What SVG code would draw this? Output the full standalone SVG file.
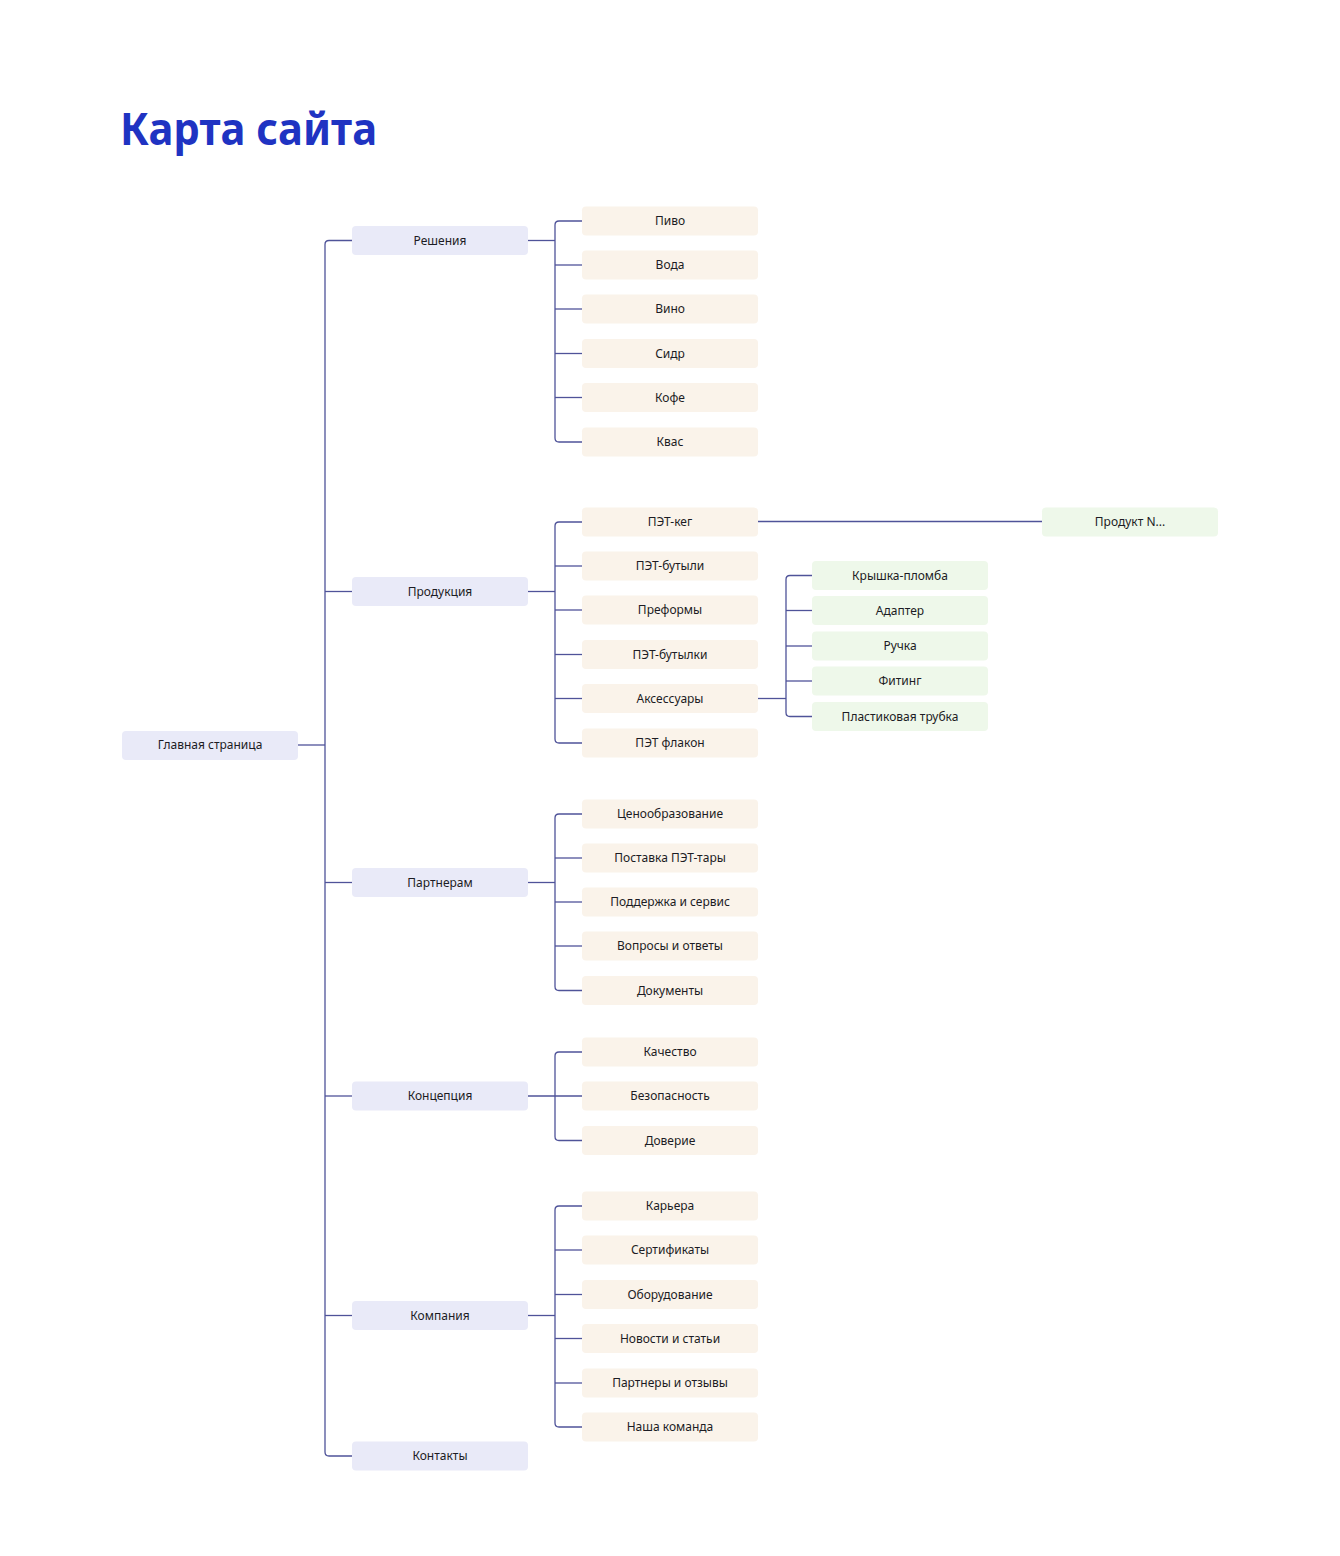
<svg xmlns="http://www.w3.org/2000/svg" width="1340" height="1556" viewBox="0 0 1340 1556">
<style>
.bg{fill:#ffffff}
rect.b{width:176px;height:29px;rx:4px}
.n1 rect{fill:#e9eaf8}
.n2 rect{fill:#faf3ea}
.n3 rect{fill:#eef8ea}
text.t{font-family:"Noto Sans","Liberation Sans",sans-serif;font-size:12px;fill:#1c1c24;text-anchor:middle}
.title{font-family:"Noto Sans","Liberation Sans",sans-serif;font-size:45px;font-weight:700;fill:#1f33c2}
#connectors path{fill:none;stroke:#4f5399;stroke-width:1.3}
</style>
<rect class="bg" width="1340" height="1556"/>
<text class="title" x="120" y="145" textLength="257" lengthAdjust="spacingAndGlyphs">Карта сайта</text>

<g id="connectors">
<path d="M298,745 H325"/>
<path d="M352,240.5 H329 Q325,240.5 325,244.5 V1452 Q325,1456 329,1456 H352"/>
<path d="M325,591.5 H352"/>
<path d="M325,882.5 H352"/>
<path d="M325,1096 H352"/>
<path d="M325,1315.5 H352"/>
<path d="M528,240.5 H555"/>
<path d="M582,221 H559 Q555,221 555,225 V438 Q555,442 559,442 H582"/>
<path d="M555,265 H582"/>
<path d="M555,309 H582"/>
<path d="M555,353.5 H582"/>
<path d="M555,397.5 H582"/>
<path d="M528,591.5 H555"/>
<path d="M582,522 H559 Q555,522 555,526 V739 Q555,743 559,743 H582"/>
<path d="M555,566 H582"/>
<path d="M555,610 H582"/>
<path d="M555,654.5 H582"/>
<path d="M555,698.5 H582"/>
<path d="M758,521.5 H1042"/>
<path d="M758,698.5 H786"/>
<path d="M812,575.5 H790 Q786,575.5 786,579.5 V712.5 Q786,716.5 790,716.5 H812"/>
<path d="M786,610.5 H812"/>
<path d="M786,646 H812"/>
<path d="M786,681 H812"/>
<path d="M528,882.5 H555"/>
<path d="M582,814 H559 Q555,814 555,818 V986.5 Q555,990.5 559,990.5 H582"/>
<path d="M555,858 H582"/>
<path d="M555,902 H582"/>
<path d="M555,946 H582"/>
<path d="M528,1096 H582"/>
<path d="M582,1052 H559 Q555,1052 555,1056 V1136.5 Q555,1140.5 559,1140.5 H582"/>
<path d="M528,1315.5 H555"/>
<path d="M582,1206 H559 Q555,1206 555,1210 V1423 Q555,1427 559,1427 H582"/>
<path d="M555,1250 H582"/>
<path d="M555,1294.5 H582"/>
<path d="M555,1338.5 H582"/>
<path d="M555,1383 H582"/>
</g>

<g id="n-main" class="n1"><rect class="b" x="122" y="731" width="176" height="29" rx="4"/><text class="t" x="210" y="749">Главная страница</text></g>

<g id="n-resheniya" class="n1"><rect class="b" x="352" y="226" width="176" height="29" rx="4"/><text class="t" x="440" y="244.5">Решения</text></g>
<g id="n-produkciya" class="n1"><rect class="b" x="352" y="577" width="176" height="29" rx="4"/><text class="t" x="440" y="595.5">Продукция</text></g>
<g id="n-partneram" class="n1"><rect class="b" x="352" y="868" width="176" height="29" rx="4"/><text class="t" x="440" y="886.5">Партнерам</text></g>
<g id="n-koncepciya" class="n1"><rect class="b" x="352" y="1081.5" width="176" height="29" rx="4"/><text class="t" x="440" y="1100">Концепция</text></g>
<g id="n-kompaniya" class="n1"><rect class="b" x="352" y="1301" width="176" height="29" rx="4"/><text class="t" x="440" y="1319.5">Компания</text></g>
<g id="n-kontakty" class="n1"><rect class="b" x="352" y="1441.5" width="176" height="29" rx="4"/><text class="t" x="440" y="1460">Контакты</text></g>

<g id="n-pivo" class="n2"><rect class="b" x="582" y="206.5" width="176" height="29" rx="4"/><text class="t" x="670" y="225">Пиво</text></g>
<g id="n-voda" class="n2"><rect class="b" x="582" y="250.5" width="176" height="29" rx="4"/><text class="t" x="670" y="269">Вода</text></g>
<g id="n-vino" class="n2"><rect class="b" x="582" y="294.5" width="176" height="29" rx="4"/><text class="t" x="670" y="313">Вино</text></g>
<g id="n-sidr" class="n2"><rect class="b" x="582" y="339" width="176" height="29" rx="4"/><text class="t" x="670" y="357.5">Сидр</text></g>
<g id="n-kofe" class="n2"><rect class="b" x="582" y="383" width="176" height="29" rx="4"/><text class="t" x="670" y="401.5">Кофе</text></g>
<g id="n-kvas" class="n2"><rect class="b" x="582" y="427.5" width="176" height="29" rx="4"/><text class="t" x="670" y="446">Квас</text></g>

<g id="n-petkeg" class="n2"><rect class="b" x="582" y="507.5" width="176" height="29" rx="4"/><text class="t" x="670" y="526">ПЭТ-кег</text></g>
<g id="n-petbutyli" class="n2"><rect class="b" x="582" y="551.5" width="176" height="29" rx="4"/><text class="t" x="670" y="570">ПЭТ-бутыли</text></g>
<g id="n-preformy" class="n2"><rect class="b" x="582" y="595.5" width="176" height="29" rx="4"/><text class="t" x="670" y="614">Преформы</text></g>
<g id="n-petbutylki" class="n2"><rect class="b" x="582" y="640" width="176" height="29" rx="4"/><text class="t" x="670" y="658.5">ПЭТ-бутылки</text></g>
<g id="n-aksessuary" class="n2"><rect class="b" x="582" y="684" width="176" height="29" rx="4"/><text class="t" x="670" y="702.5">Аксессуары</text></g>
<g id="n-petflakon" class="n2"><rect class="b" x="582" y="728.5" width="176" height="29" rx="4"/><text class="t" x="670" y="747">ПЭТ флакон</text></g>

<g id="n-produktn" class="n3"><rect class="b" x="1042" y="507.5" width="176" height="29" rx="4"/><text class="t" x="1130" y="526">Продукт N...</text></g>

<g id="n-kryshka" class="n3"><rect class="b" x="812" y="561" width="176" height="29" rx="4"/><text class="t" x="900" y="579.5">Крышка-пломба</text></g>
<g id="n-adapter" class="n3"><rect class="b" x="812" y="596" width="176" height="29" rx="4"/><text class="t" x="900" y="614.5">Адаптер</text></g>
<g id="n-ruchka" class="n3"><rect class="b" x="812" y="631.5" width="176" height="29" rx="4"/><text class="t" x="900" y="650">Ручка</text></g>
<g id="n-fiting" class="n3"><rect class="b" x="812" y="666.5" width="176" height="29" rx="4"/><text class="t" x="900" y="685">Фитинг</text></g>
<g id="n-trubka" class="n3"><rect class="b" x="812" y="702" width="176" height="29" rx="4"/><text class="t" x="900" y="720.5">Пластиковая трубка</text></g>

<g id="n-cenoobr" class="n2"><rect class="b" x="582" y="799.5" width="176" height="29" rx="4"/><text class="t" x="670" y="818">Ценообразование</text></g>
<g id="n-postavka" class="n2"><rect class="b" x="582" y="843.5" width="176" height="29" rx="4"/><text class="t" x="670" y="862">Поставка ПЭТ-тары</text></g>
<g id="n-podderzhka" class="n2"><rect class="b" x="582" y="887.5" width="176" height="29" rx="4"/><text class="t" x="670" y="906">Поддержка и сервис</text></g>
<g id="n-voprosy" class="n2"><rect class="b" x="582" y="931.5" width="176" height="29" rx="4"/><text class="t" x="670" y="950">Вопросы и ответы</text></g>
<g id="n-dokumenty" class="n2"><rect class="b" x="582" y="976" width="176" height="29" rx="4"/><text class="t" x="670" y="994.5">Документы</text></g>

<g id="n-kachestvo" class="n2"><rect class="b" x="582" y="1037.5" width="176" height="29" rx="4"/><text class="t" x="670" y="1056">Качество</text></g>
<g id="n-bezopasnost" class="n2"><rect class="b" x="582" y="1081.5" width="176" height="29" rx="4"/><text class="t" x="670" y="1100">Безопасность</text></g>
<g id="n-doverie" class="n2"><rect class="b" x="582" y="1126" width="176" height="29" rx="4"/><text class="t" x="670" y="1144.5">Доверие</text></g>

<g id="n-kariera" class="n2"><rect class="b" x="582" y="1191.5" width="176" height="29" rx="4"/><text class="t" x="670" y="1210">Карьера</text></g>
<g id="n-sertifikaty" class="n2"><rect class="b" x="582" y="1235.5" width="176" height="29" rx="4"/><text class="t" x="670" y="1254">Сертификаты</text></g>
<g id="n-oborudovanie" class="n2"><rect class="b" x="582" y="1280" width="176" height="29" rx="4"/><text class="t" x="670" y="1298.5">Оборудование</text></g>
<g id="n-novosti" class="n2"><rect class="b" x="582" y="1324" width="176" height="29" rx="4"/><text class="t" x="670" y="1342.5">Новости и статьи</text></g>
<g id="n-partnery" class="n2"><rect class="b" x="582" y="1368.5" width="176" height="29" rx="4"/><text class="t" x="670" y="1387">Партнеры и отзывы</text></g>
<g id="n-komanda" class="n2"><rect class="b" x="582" y="1412.5" width="176" height="29" rx="4"/><text class="t" x="670" y="1431">Наша команда</text></g>
</svg>
